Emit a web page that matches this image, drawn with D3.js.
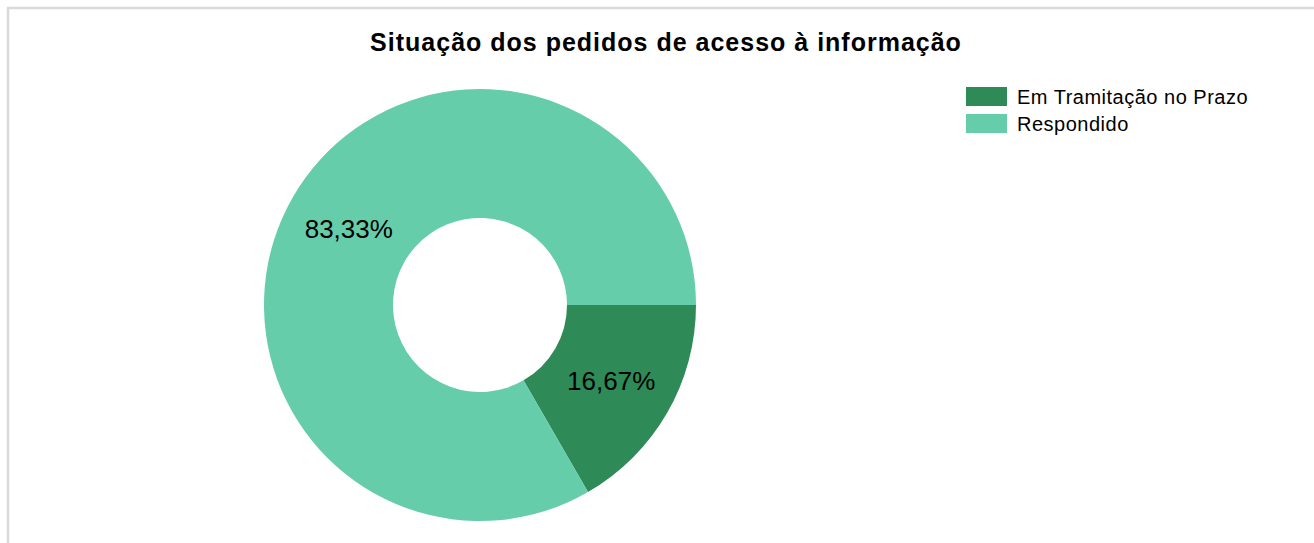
<!DOCTYPE html>
<html lang="pt">

<head>
    <meta charset="UTF-8">
    <style>
        body { margin: 0; background: #fff; }
        #pie-chart { width: 1314px; height: 543px; }
        text { font-family: "Liberation Sans", Arial, sans-serif; }
    </style>
    <title>Situação dos pedidos</title>
    <script src="https://cdn.jsdelivr.net/npm/d3@7/dist/d3.min.js"></script>
</head>

<body>
    <div id="pie-chart"></div>
    <script>
        // data
        const categories = ['Em Tramitação no Prazo', 'Respondido'];
        const values = [1, 5];
        const labels = ['16,67%', '83,33%'];
        const colors = ['#2E8B57', '#66CDAA'];

        const width = 1314;
        const height = 543;

        const svg = d3.select('#pie-chart')
            .append('svg')
            .attr('width', width)
            .attr('height', height);

        // frame (left + top visible)
        svg.append('rect')
            .attr('x', 8)
            .attr('y', 8)
            .attr('width', width + 20)
            .attr('height', height + 20)
            .attr('fill', 'none')
            .attr('stroke', '#d9d9d9')
            .attr('stroke-width', 2.5);

        svg.append('text')
            .attr('x', 666)
            .attr('y', 51)
            .attr('text-anchor', 'middle')
            .style('font-size', '25px')
            .style('font-weight', 'bold')
            .style('letter-spacing', '1px')
            .text('Situação dos pedidos de acesso à informação');

        const cx = 480;
        const cy = 305;
        const outer = 216;
        const inner = 87;

        const pie = d3.pie()
            .sort(null)
            .startAngle(Math.PI / 2)
            .endAngle(Math.PI / 2 + 2 * Math.PI);

        const arc = d3.arc().innerRadius(inner).outerRadius(outer);

        const g = svg.append('g')
            .attr('transform', `translate(${cx}, ${cy})`);

        const arcs = pie(values);

        g.selectAll('path')
            .data(arcs)
            .enter()
            .append('path')
            .attr('d', arc)
            .attr('fill', (d, i) => colors[i]);

        g.selectAll('text.label')
            .data(arcs)
            .enter()
            .append('text')
            .attr('class', 'label')
            .attr('transform', d => `translate(${arc.centroid(d)})`)
            .attr('text-anchor', 'middle')
            .attr('dy', '0.35em')
            .style('font-size', '26px')
            .text((d, i) => labels[i]);

        // legend
        const legend = svg.append('g')
            .attr('transform', 'translate(966, 87)');

        const item = legend.selectAll('g')
            .data(categories)
            .enter()
            .append('g')
            .attr('transform', (d, i) => `translate(0, ${i * 27})`);

        item.append('rect')
            .attr('width', 41)
            .attr('height', 19)
            .attr('fill', (d, i) => colors[i]);

        item.append('text')
            .attr('x', 51)
            .attr('y', 17)
            .style('font-size', '20px')
            .style('letter-spacing', '0.5px')
            .text(d => d);
    </script>
</body>

</html>
